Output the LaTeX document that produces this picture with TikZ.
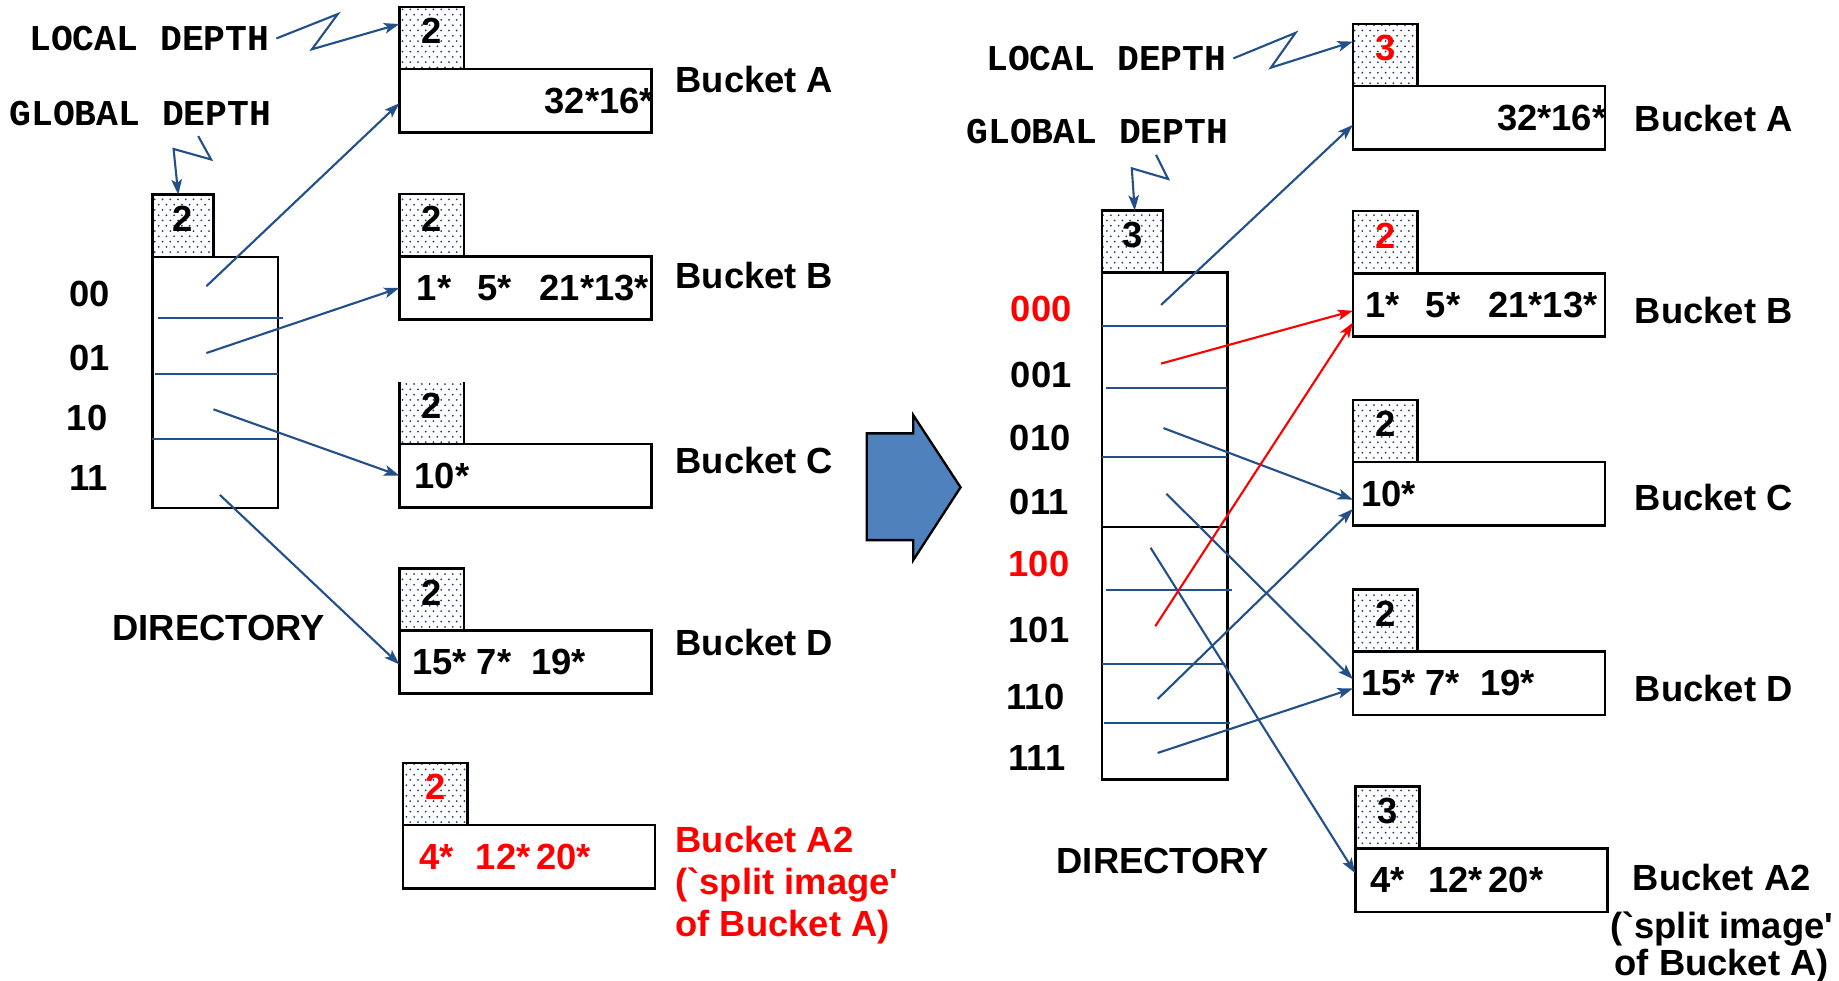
\documentclass[tikz,border=0pt]{standalone}
\usepackage{fontspec}
\setmainfont{Liberation Sans}
\newfontfamily\depthfont{Liberation Mono}
\usetikzlibrary{positioning,patterns,arrows.meta}
\definecolor{linkblue}{HTML}{24508A}
\definecolor{dotblue}{HTML}{1C3A78}
\definecolor{arrowfill}{HTML}{4F81BD}
\pgfdeclarepatternformonly{sparsedots}{\pgfqpoint{-1pt}{-1pt}}{\pgfqpoint{7.6pt}{10pt}}{\pgfqpoint{6.6pt}{9pt}}{\pgfpathcircle{\pgfqpoint{0pt}{0pt}}{0.85pt}\pgfpathcircle{\pgfqpoint{3.3pt}{4.5pt}}{0.85pt}\pgfusepath{fill}}

\begin{document}
\begin{tikzpicture}[x={(1pt,0pt)},y={(0pt,-1pt)},
  every node/.style={font=\bfseries\fontsize{31}{36}\selectfont, inner sep=0pt, outer sep=0pt},
  bucket/.style={draw, line width=2.2pt, minimum width=215pt, minimum height=54pt},
  depthbox/.style={draw, line width=2.2pt, pattern=sparsedots, pattern color=dotblue, minimum width=55pt, minimum height=53pt, text height=22pt, text depth=12pt},
  dir/.style={draw, line width=2.2pt, minimum width=107pt},
  caption/.style={font=\depthfont\bfseries\fontsize{31}{36}\selectfont},
  link/.style={linkblue, line width=1.8pt, -{Stealth[length=13pt,width=9pt,inset=3pt]}},
  redlink/.style={link, red},
  slot/.style={linkblue, line width=1.8pt}]

\fill[white] (0,0) rectangle (1568,836);
\useasboundingbox (0,0) rectangle (1568,836);

\node[caption, anchor=base west] (ldL) at (25,43) {LOCAL DEPTH};
\node[caption, anchor=base west] (gdL) at (8,107) {GLOBAL DEPTH};
\node[caption, anchor=base west] (ldR) at (841,60) {LOCAL DEPTH};
\node[caption, anchor=base west] (gdR) at (824,122) {GLOBAL DEPTH};

\node[dir, minimum height=214pt] (dirL) at (183.5,326) {};
\node[depthbox, minimum width=52pt, anchor=south west] (gL) at (dirL.north west) {2};
\draw[slot] (135,271.5) -- (241,271.5);
\draw[slot] (132,319) -- (237,319);
\draw[slot] (130,374) -- (237,374);

\node[anchor=base west] (k00) at (59,261) {00};
\node[anchor=base west] (k01) at (59,316) {01};
\node[anchor=base west] (k10) at (57,367) {10};
\node[anchor=base west] (k11) at (59,418) {11};
\node[anchor=base west] (dnL) at (96,546.5) {DIRECTORY};

\node[bucket] (bA) at (448,86) {};
\node[depthbox, anchor=south west] (dA) at (bA.north west) {2};
\node[left=-2pt of bA.east] (eA) {32*16*};
\node[bucket] (bB) at (448,245.5) {};
\node[depthbox, anchor=south west] (dB) at (bB.north west) {2};
\node[right=15pt of bB.west] (eB) {1*\hspace{22pt}5*\hspace{24pt}21*13*};
\node[bucket] (bC) at (448,405.5) {};
\node[depthbox, draw=none, anchor=south west] (dC) at (bC.north west) {2};
\draw[line width=2.2pt] (dC.north west) -- (dC.south west) (dC.south east) -- (dC.north east);
\node[right=13pt of bC.west] (eC) {10*};
\node[bucket] (bD) at (448,564.5) {};
\node[depthbox, anchor=south west] (dD) at (bD.north west) {2};
\node[right=11pt of bD.west] (eD) {15* 7*\hspace{17pt}19*};
\node[bucket] (bA2) at (451,730.5) {};
\node[depthbox, anchor=south west, text=red] (dA2) at (bA2.north west) {2};
\node[right=14pt of bA2.west, red] (eA2) {4*\hspace{19pt}12*\hspace{5pt}20*};

\node[anchor=base west] (lA) at (576,79) {Bucket A};
\node[anchor=base west] (lB) at (576,246) {Bucket B};
\node[anchor=base west] (lC) at (576,403.5) {Bucket C};
\node[anchor=base west] (lD) at (576,558.5) {Bucket D};
\node[anchor=north west, align=left, red] (lA2) at (576,704) {Bucket A2\\(\textasciigrave split image\textquotesingle\\of Bucket A)};

\coordinate (p00) at (176,244);
\coordinate (p01) at (176,301);
\coordinate (p10) at (182,349);
\coordinate (p11) at (187.5,422);
\draw[link] (p00) -- ([yshift=-2pt]bA.west);
\draw[link] (p01) -- (bB.west);
\draw[link] (p10) -- (bC.west);
\draw[link] (p11) -- ([yshift=-2pt]bD.west);

\coordinate (zgL) at (169,116);
\draw[link] ([xshift=6pt]ldL.east) -- (288,12) -- (266,42) -- ([yshift=12pt]dA.west);
\draw[link] (zgL) -- (180,136) -- (148,127) -- ([xshift=-4pt]gL.north);

\draw[fill=arrowfill, line width=2pt, line join=miter] (739,369.5) -- (778.7,369.5) -- (778.7,354) -- (819,415.5) -- (778.7,477.5) -- (778.7,460.5) -- (739,460.5) -- cycle;

\node[dir, minimum height=217pt] (dirR1) at (993,341) {};
\node[dir, minimum height=215pt] (dirR2) at (993,557) {};
\node[depthbox, minimum width=52pt, anchor=south west] (gR) at (dirR1.north west) {3};
\draw[slot] (940,278) -- (1046,278);
\draw[slot] (943,330.6) -- (1046,330.6);
\draw[slot] (940,389.4) -- (1046,389.4);
\draw[slot] (943,503) -- (1050.5,503);
\draw[slot] (940,566.4) -- (1044.5,566.4);
\draw[slot] (941.5,616.8) -- (1049,616.8);

\node[anchor=base west, red] (k000) at (862,274) {000};
\node[anchor=base west] (k001) at (862,330) {001};
\node[anchor=base west] (k010) at (861,383.7) {010};
\node[anchor=base west] (k011) at (861,439) {011};
\node[anchor=base west, red] (k100) at (860,491.7) {100};
\node[anchor=base west] (k101) at (860,548) {101};
\node[anchor=base west] (k110) at (858,605) {110};
\node[anchor=base west] (k111) at (860,656.6) {111};
\node[anchor=base west] (dnR) at (901,744.5) {DIRECTORY};

\node[bucket] (rA) at (1261,100.5) {};
\node[depthbox, anchor=south west, text=red] (rdA) at (rA.north west) {3};
\node[left=-1pt of rA.east] (fA) {32*16*};
\node[bucket] (rB) at (1261,260) {};
\node[depthbox, anchor=south west, text=red] (rdB) at (rB.north west) {2};
\node[right=11pt of rB.west] (fB) {1*\hspace{22pt}5*\hspace{24pt}21*13*};
\node[bucket] (rC) at (1261,421) {};
\node[depthbox, anchor=south west] (rdC) at (rC.north west) {2};
\node[right=7pt of rC.west] (fC) {10*};
\node[bucket] (rD) at (1261,582.5) {};
\node[depthbox, anchor=south west] (rdD) at (rD.north west) {2};
\node[right=7pt of rD.west] (fD) {15* 7*\hspace{17pt}19*};
\node[bucket] (rA2) at (1263,750.5) {};
\node[depthbox, anchor=south west] (rdA2) at (rA2.north west) {3};
\node[right=13pt of rA2.west] (fA2) {4*\hspace{20pt}12*\hspace{5pt}20*};

\node[anchor=base west] (mA) at (1394,112) {Bucket A};
\node[anchor=base west] (mB) at (1394,276) {Bucket B};
\node[anchor=base west] (mC) at (1394,435) {Bucket C};
\node[anchor=base west] (mD) at (1394,598) {Bucket D};
\node[anchor=north, align=center] (mA2) at (1468,736.4) {Bucket A2\\[5pt](\textasciigrave split image\textquotesingle\\[-4pt]of Bucket A)};

\coordinate (q000) at (990,260);
\coordinate (q001) at (990,310);
\coordinate (q010) at (992,365);
\coordinate (q011) at (994.5,421);
\coordinate (q100) at (981,467);
\coordinate (q101) at (985,534);
\coordinate (q110) at (987,596);
\coordinate (q111) at (987,642);
\draw[link] (q000) -- ([yshift=-6pt]rA.west);
\draw[redlink] (q001) -- ([yshift=-5pt]rB.west);
\draw[link] (q010) -- ([yshift=-5pt]rC.west);
\draw[link] (q011) -- ([yshift=3.5pt]rD.west);
\draw[link] (q100) -- ([yshift=6pt]rA2.west);
\draw[redlink] (q101) -- ([yshift=-15pt]rB.west);
\draw[link] (q110) -- ([yshift=-13pt]rC.west);
\draw[link] (q111) -- ([yshift=-4.5pt]rD.west);

\coordinate (zgR) at (985.7,132);
\draw[link] ([xshift=6pt]ldR.east) -- (1104.6,28) -- (1083.6,57.7) -- ([yshift=11.5pt]rdA.west);
\draw[link] (zgR) -- (996,152.6) -- (965,143.5) -- ([xshift=2pt]gR.north);
\end{tikzpicture}
\end{document}
